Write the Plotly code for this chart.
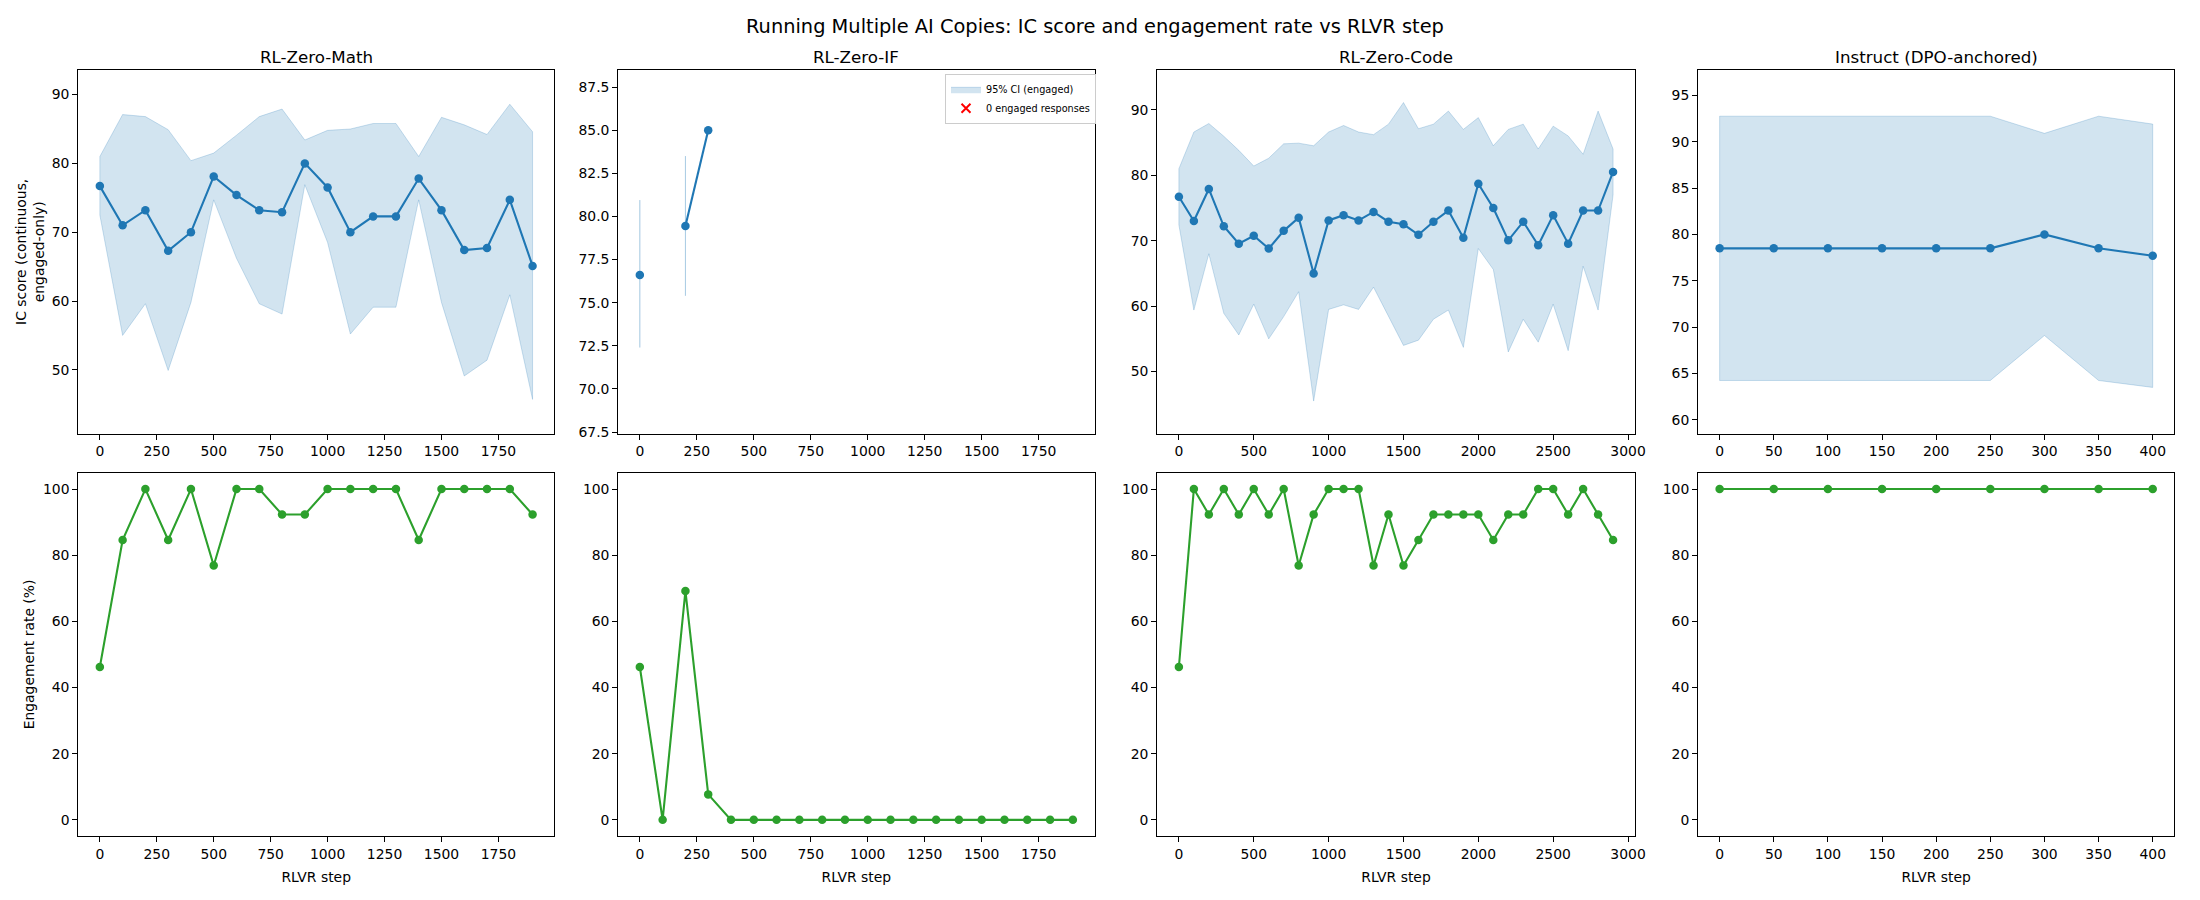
import plotly.graph_objects as go

# ---------------- data ----------------
math_steps = [0, 100, 200, 300, 400, 500, 600, 700, 800, 900, 1000, 1100, 1200, 1300, 1400, 1500, 1600, 1700, 1800, 1900]
math_ic = [76.7, 71.0, 73.2, 67.3, 70.0, 78.1, 75.4, 73.2, 72.9, 80.0, 76.5, 70.0, 72.3, 72.3, 77.8, 73.2, 67.4, 67.7, 74.7, 65.1]
math_hi = [81.0, 87.1, 86.8, 84.9, 80.4, 81.5, 84.1, 86.8, 87.9, 83.4, 84.8, 85.0, 85.8, 85.8, 81.0, 86.7, 85.6, 84.2, 88.6, 84.6]
math_lo = [72.5, 55.0, 59.6, 49.9, 59.8, 74.7, 66.2, 59.6, 58.1, 76.9, 68.5, 55.2, 59.1, 59.1, 74.7, 59.8, 49.1, 51.4, 60.9, 45.7]
math_eng = [46.2, 84.6, 100, 84.6, 100, 76.9, 100, 100, 92.3, 92.3, 100, 100, 100, 100, 84.6, 100, 100, 100, 100, 92.3]

if_steps = [0, 100, 200, 300, 400, 500, 600, 700, 800, 900, 1000, 1100, 1200, 1300, 1400, 1500, 1600, 1700, 1800, 1900]
if_ic = [76.6, None, 79.45, 85.0] + [None] * 16
if_hi = [80.95, None, 83.5, None] + [None] * 16
if_lo = [72.4, None, 75.4, None] + [None] * 16
if_eng = [46.2, 0, 69.2, 7.7, 0, 0, 0, 0, 0, 0, 0, 0, 0, 0, 0, 0, 0, 0, 0, 0]

code_steps = [0, 100, 200, 300, 400, 500, 600, 700, 800, 900, 1000, 1100, 1200, 1300, 1400,
              1500, 1600, 1700, 1800, 1900, 2000, 2100, 2200, 2300, 2400, 2500, 2600, 2700, 2800, 2900]
code_ic = [76.7, 73.0, 77.9, 72.2, 69.55, 70.75, 68.8, 71.5, 73.5, 65.0, 73.1, 73.9, 73.1, 74.4, 72.9,
           72.5, 70.9, 72.9, 74.6, 70.45, 78.7, 75.0, 70.05, 72.9, 69.3, 73.9, 69.55, 74.6, 74.6, 80.5]
code_hi = [81.0, 86.6, 87.9, 85.95, 83.8, 81.4, 82.6, 84.8, 84.9, 84.5, 86.6, 87.6, 86.6, 86.2, 87.8,
           91.1, 87.1, 87.8, 89.8, 87.0, 88.8, 84.5, 87.0, 87.8, 84.0, 87.5, 86.0, 83.2, 89.8, 84.0]
code_lo = [72.4, 59.4, 68.0, 58.9, 55.6, 60.3, 55.0, 58.4, 62.2, 45.5, 59.5, 60.2, 59.5, 62.9, 58.5,
           54.0, 54.8, 58.0, 59.4, 53.7, 68.8, 65.6, 53.0, 58.0, 54.5, 60.3, 53.2, 66.1, 59.4, 77.0]
code_eng = [46.2, 100, 92.3, 100, 92.3, 100, 92.3, 100, 76.9, 92.3, 100, 100, 100, 76.9, 92.3,
            76.9, 84.6, 92.3, 92.3, 92.3, 92.3, 84.6, 92.3, 92.3, 100, 100, 92.3, 100, 92.3, 84.6]

inst_steps = [0, 50, 100, 150, 200, 250, 300, 350, 400]
inst_ic = [78.5, 78.5, 78.5, 78.5, 78.5, 78.5, 80.0, 78.5, 77.7]
inst_hi = [92.75, 92.75, 92.75, 92.75, 92.75, 92.75, 90.9, 92.75, 91.9]
inst_lo = [64.25, 64.25, 64.25, 64.25, 64.25, 64.25, 69.1, 64.25, 63.5]
inst_eng = [100, 100, 100, 100, 100, 100, 100, 100, 100]

panel_titles = ["RL-Zero-Math", "RL-Zero-IF", "RL-Zero-Code", "Instruct (DPO-anchored)"]
suptitle = "Running Multiple AI Copies: IC score and engagement rate vs RLVR step"
ylabel_top = "IC score (continuous,<br>engaged-only)"
ylabel_bot = "Engagement rate (%)"
xlabel = "RLVR step"
ci_name = "95% CI (engaged)"
zero_name = "0 engaged responses"

# ---------------- styling ----------------
BLUE = "#1f77b4"
GREEN = "#2ca02c"
FILL = "rgba(31,119,180,0.2)"
EDGE = "rgba(31,119,180,0.22)"
FONT = "DejaVu Sans"
W, H = 2200, 900

panels = [
    dict(steps=math_steps, ic=math_ic, hi=math_hi, lo=math_lo, eng=math_eng, xdtick=250, ydtick=10, yfmt=""),
    dict(steps=if_steps, ic=if_ic, hi=if_hi, lo=if_lo, eng=if_eng, xdtick=250, ydtick=2.5, yfmt=".1f"),
    dict(steps=code_steps, ic=code_ic, hi=code_hi, lo=code_lo, eng=code_eng, xdtick=500, ydtick=10, yfmt=""),
    dict(steps=inst_steps, ic=inst_ic, hi=inst_hi, lo=inst_lo, eng=inst_eng, xdtick=50, ydtick=5, yfmt=""),
]

col_px = [(78.6, 557.0), (621.3, 1100.0), (1163.0, 1643.0), (1706.5, 2185.3)]
top_px = (70.3, 436.7)
bot_px = (475.7, 842.0)


def xdom(c):
    return [col_px[c][0] / W, col_px[c][1] / W]


def ydom(row):
    a, b = row
    return [1 - b / H, 1 - a / H]


def ci_polygons(x, lo, hi):
    xs, ys = [], []
    i, n = 0, len(x)
    while i < n:
        if lo[i] is None or hi[i] is None:
            i += 1
            continue
        j = i
        while j < n and lo[j] is not None and hi[j] is not None:
            j += 1
        sx = list(x[i:j])
        xs += sx + sx[::-1] + [sx[0], None]
        ys += list(hi[i:j]) + list(lo[i:j])[::-1] + [hi[i], None]
        i = j
    return xs, ys


fig = go.Figure()

axis_common = dict(
    showline=True, linecolor="black", linewidth=1.1, mirror=True,
    ticks="outside", ticklen=4.9, tickwidth=1.1, tickcolor="black",
    showgrid=False, zeroline=False,
    tickfont=dict(family=FONT, size=13.9, color="black"),
)

layout_axes = {}
annotations = []

for c, p in enumerate(panels):
    xt, yt = c + 1, c + 1
    xb, yb = c + 5, c + 5
    steps = p["steps"]
    xmin, xmax = min(steps), max(steps)
    xpad = 0.05 * (xmax - xmin)
    xr = [xmin - xpad, xmax + xpad]

    # CI band
    px_, py_ = ci_polygons(steps, p["lo"], p["hi"])
    fig.add_trace(go.Scatter(
        x=px_, y=py_, mode="lines", fill="toself", fillcolor=FILL,
        line=dict(color=EDGE, width=1), name=ci_name,
        showlegend=(c == 1), hoverinfo="skip",
        xaxis=f"x{xt}", yaxis=f"y{yt}",
    ))
    # mean IC
    fig.add_trace(go.Scatter(
        x=steps, y=p["ic"], mode="lines+markers",
        line=dict(color=BLUE, width=2.1), marker=dict(color=BLUE, size=8.5),
        showlegend=False, xaxis=f"x{xt}", yaxis=f"y{yt}",
    ))
    if c == 1:
        zero_steps = [s for s, e in zip(steps, p["eng"]) if e == 0]
        fig.add_trace(go.Scatter(
            x=zero_steps, y=[None] * len(zero_steps), mode="markers",
            marker=dict(symbol="x-thin", size=9, color="red", line=dict(color="red", width=2)),
            name=zero_name, showlegend=True, xaxis=f"x{xt}", yaxis=f"y{yt}",
        ))
    # engagement
    fig.add_trace(go.Scatter(
        x=steps, y=p["eng"], mode="lines+markers",
        line=dict(color=GREEN, width=2.1), marker=dict(color=GREEN, size=8.5),
        showlegend=False, xaxis=f"x{xb}", yaxis=f"y{yb}",
    ))

    lo_vals = [v for v in p["lo"] if v is not None]
    hi_vals = [v for v in p["hi"] if v is not None]
    yr = [min(lo_vals) - 5, max(hi_vals) + 5]

    sfx_t = "" if xt == 1 else str(xt)
    sfx_b = str(xb)
    layout_axes[f"xaxis{sfx_t}"] = dict(axis_common, domain=xdom(c), anchor=f"y{yt}", range=xr,
                                        tickmode="linear", tick0=0, dtick=p["xdtick"])
    layout_axes[f"yaxis{sfx_t}"] = dict(axis_common, domain=ydom(top_px), anchor=f"x{xt}", range=yr,
                                        tickmode="linear", tick0=0, dtick=p["ydtick"], tickformat=p["yfmt"])
    layout_axes[f"xaxis{sfx_b}"] = dict(axis_common, domain=xdom(c), anchor=f"y{yb}", range=xr,
                                        tickmode="linear", tick0=0, dtick=p["xdtick"],
                                        title=dict(text=xlabel, font=dict(family=FONT, size=13.9, color="black"), standoff=11))
    layout_axes[f"yaxis{sfx_b}"] = dict(axis_common, domain=ydom(bot_px), anchor=f"x{xb}", range=[-5, 105],
                                        tickmode="linear", tick0=0, dtick=20)
    if c == 0:
        layout_axes[f"yaxis{sfx_t}"]["title"] = dict(text=ylabel_top, font=dict(family=FONT, size=13.9, color="black"), standoff=3)
        layout_axes[f"yaxis{sfx_b}"]["title"] = dict(text=ylabel_bot, font=dict(family=FONT, size=13.9, color="black"), standoff=5)

    annotations.append(dict(
        text=panel_titles[c], xref="paper", yref="paper",
        x=(col_px[c][0] + col_px[c][1]) / 2 / W, y=1 - top_px[0] / H,
        xanchor="center", yanchor="bottom", yshift=1, showarrow=False,
        font=dict(family=FONT, size=16.7, color="black"),
    ))

annotations.append(dict(
    text=suptitle, xref="paper", yref="paper", x=0.5, y=1 - 27 / H,
    xanchor="center", yanchor="middle", showarrow=False,
    font=dict(family=FONT, size=19.4, color="black"),
))

fig.update_layout(
    width=W, height=H,
    margin=dict(l=0, r=0, t=0, b=0),
    paper_bgcolor="white", plot_bgcolor="white",
    font=dict(family=FONT, color="black"),
    annotations=annotations,
    legend=dict(
        x=(col_px[1][1] + 1.5) / W, y=1 - (top_px[0] + 4) / H,
        xanchor="right", yanchor="top",
        bgcolor="rgba(255,255,255,0.8)", bordercolor="#cccccc", borderwidth=1,
        font=dict(family=FONT, size=9.7, color="black"),
        itemwidth=30, tracegroupgap=0,
    ),
    showlegend=True,
    **layout_axes,
)

fig.write_html(
    "out.html",
    config={"displayModeBar": False},
    post_script="document.body.style.margin='0';document.body.style.overflow='hidden';",
)
